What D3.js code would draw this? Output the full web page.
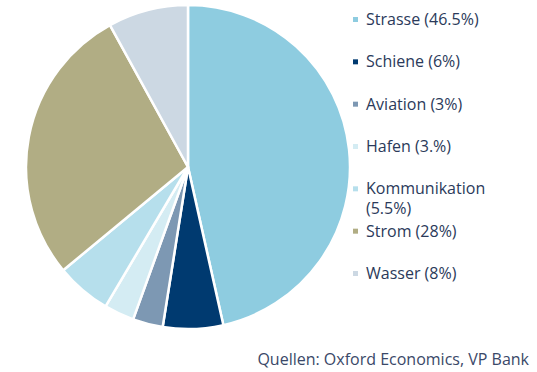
<!DOCTYPE html>
<html>
<head>
<meta charset="utf-8">
<script src="https://cdn.jsdelivr.net/npm/d3@7"></script>
<style>
  body { margin: 0; background: #fff; }
  svg { display: block; font-family: "Open Sans", Lato, sans-serif; }
</style>
</head>
<body>
<svg id="chart"></svg>
<script>
const categories = ["Strasse", "Schiene", "Aviation", "Hafen", "Kommunikation", "Strom", "Wasser"];
const values = [46.5, 6, 3, 3, 5.5, 28, 8];
const legendLabels = ["Strasse (46.5%)", "Schiene (6%)", "Aviation (3%)", "Hafen (3.%)", ["Kommunikation", "(5.5%)"], "Strom (28%)", "Wasser (8%)"];
const colors = ["#8ECCE0", "#003A70", "#7D98B3", "#D4ECF3", "#B6DFEC", "#B1AD84", "#CCD8E3"];

const width = 537, height = 372;
const cx = 188, cy = 167, radius = 162;

const svg = d3.select("#chart").attr("width", width).attr("height", height);

const color = d3.scaleOrdinal().domain(categories).range(colors);

const pie = d3.pie().sort(null).value((d) => d.value);
const arc = d3.arc().innerRadius(0).outerRadius(radius);

const data = categories.map((c, i) => ({ name: c, value: values[i] }));

// pie slices
const g = svg.append("g").attr("transform", `translate(${cx},${cy})`);
g.selectAll("path")
  .data(pie(data))
  .join("path")
  .attr("d", arc)
  .attr("fill", (d) => color(d.data.name))
  .attr("stroke", "#fff")
  .attr("stroke-width", 2.5)
  .attr("stroke-linejoin", "round");

// legend
const legendY = d3.scalePoint().domain(categories).range([18, 272]);
const legend = svg.append("g").attr("transform", "translate(353,0)");
const items = legend.selectAll(".item")
  .data(categories)
  .join("g")
  .attr("class", "item")
  .attr("transform", (d) => `translate(0,${legendY(d)})`);

items.append("rect")
  .attr("x", 0).attr("y", -1)
  .attr("width", 5).attr("height", 5)
  .attr("fill", (d) => color(d));

items.append("text")
  .attr("x", 13)
  .attr("y", 7)
  .attr("fill", "#2B3A5A")
  .attr("font-size", "16px")
  .each(function (d, i) {
    const lbl = legendLabels[i];
    const t = d3.select(this);
    if (Array.isArray(lbl)) {
      lbl.forEach((line, j) => {
        t.append("tspan").attr("x", 13).attr("dy", j === 0 ? 0 : 20).text(line);
      });
    } else {
      t.text(lbl);
    }
  });

// source
svg.append("text")
  .attr("x", 529)
  .attr("y", 365)
  .attr("text-anchor", "end")
  .attr("fill", "#3A4868")
  .attr("font-size", "16px")
  .text("Quellen: Oxford Economics, VP Bank");
</script>
</body>
</html>
